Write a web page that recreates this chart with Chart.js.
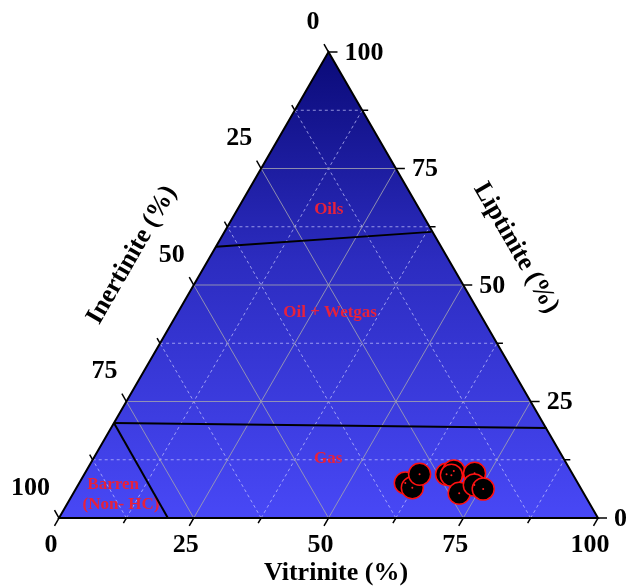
<!DOCTYPE html>
<html>
<head>
<meta charset="utf-8">
<title>Maceral ternary</title>
<script src="https://cdn.jsdelivr.net/npm/chart.js@4.4.1/dist/chart.umd.min.js"></script>
<style>
  body { margin: 0; background: #ffffff; }
  #wrap { width: 629px; height: 587px; }
</style>
</head>
<body>
<div id="wrap"><canvas id="myChart" width="629" height="587"></canvas></div>
<script>
// axis ticks
var tickValues = [0, 25, 50, 75, 100];
var minorTicks = [12.5, 37.5, 62.5, 87.5];
var axisTitles = ["Vitrinite (%)", "Liptinite (%)", "Inertinite (%)"];

// samples (percent)
var vitrinite  = [60.5, 62.3, 62.2, 67.2, 68.2, 68.2, 71.6, 72.3, 73.5, 75.6];
var liptinite  = [ 7.5,  6.5,  9.4,  9.4, 10.1,  9.2,  5.3,  9.6,  7.1,  6.2];
var inertinite = [32.0, 31.2, 28.4, 23.4, 21.7, 22.6, 23.1, 18.1, 19.4, 18.2];

// field boundaries (vitrinite, liptinite at each end)
var oilsLineV = [0, 38.4];
var oilsLineL = [58.2, 61.4];
var gasLineV = [0, 80.8];
var gasLineL = [20.4, 19.3];
var barrenLineV = [0, 20.2];
var barrenLineL = [20.4, 0];

// field names and where they sit (vitrinite, liptinite)
var fieldNames = ["Oils", "Oil + Wetgas", "Gas", "Barren", "(Non- HC)"];
var fieldV = [17.0, 28.3, 43.6, 6.5, 10.1];
var fieldL = [66.1, 44.0, 12.7, 7.1, 2.8];

var H = Math.sqrt(3) / 2;

// ternary -> cartesian (x along vitrinite, y up towards liptinite apex)
function toXY(v, l) {
    return { x: v + l / 2, y: l * H };
}

function makePoints(vs, ls) {
    var out = [];
    for (var i = 0; i < vs.length; i++) {
        out.push(toXY(vs[i], ls[i]));
    }
    return out;
}

// draws the triangle, grid, ticks and labels using the chart scales
var ternaryPlugin = {
    id: "ternary",
    beforeDatasetsDraw: function(chart) {
        var ctx = chart.ctx;
        var xs = chart.scales.x, ys = chart.scales.y;
        function px(v, l) {
            var p = toXY(v, l);
            return [xs.getPixelForValue(p.x), ys.getPixelForValue(p.y)];
        }
        var A = px(0, 0), B = px(100, 0), C = px(0, 100);

        ctx.save();
        var grad = ctx.createLinearGradient(0, C[1], 0, A[1]);
        grad.addColorStop(0, "#0a0a78");
        grad.addColorStop(0.45, "#2c2cc0");
        grad.addColorStop(1, "#4848f6");
        ctx.beginPath();
        ctx.moveTo(A[0], A[1]);
        ctx.lineTo(B[0], B[1]);
        ctx.lineTo(C[0], C[1]);
        ctx.closePath();
        ctx.fillStyle = grad;
        ctx.fill();

        // grid lines
        function gridSet(vals, dashed) {
            ctx.lineWidth = 1;
            if (dashed) {
                ctx.setLineDash([3, 3]);
                ctx.strokeStyle = "rgba(200,200,255,0.7)";
            } else {
                ctx.setLineDash([]);
                ctx.strokeStyle = "rgba(160,160,175,0.85)";
            }
            for (var i = 0; i < vals.length; i++) {
                var t = vals[i];
                var lines = [
                    [px(t, 0), px(t, 100 - t)],      // constant vitrinite
                    [px(0, t), px(100 - t, t)],      // constant liptinite
                    [px(100 - t, 0), px(0, 100 - t)] // constant inertinite
                ];
                for (var j = 0; j < lines.length; j++) {
                    ctx.beginPath();
                    ctx.moveTo(lines[j][0][0], lines[j][0][1]);
                    ctx.lineTo(lines[j][1][0], lines[j][1][1]);
                    ctx.stroke();
                }
            }
        }
        gridSet(minorTicks, true);
        gridSet(tickValues.slice(1, 4), false);
        ctx.setLineDash([]);

        // outline
        ctx.beginPath();
        ctx.moveTo(A[0], A[1]);
        ctx.lineTo(B[0], B[1]);
        ctx.lineTo(C[0], C[1]);
        ctx.closePath();
        ctx.strokeStyle = "#000";
        ctx.lineWidth = 2;
        ctx.stroke();

        // ticks
        ctx.lineWidth = 1.5;
        function tick(p, dx, dy, len) {
            ctx.beginPath();
            ctx.moveTo(p[0], p[1]);
            ctx.lineTo(p[0] + dx * len, p[1] + dy * len);
            ctx.stroke();
        }
        var all = tickValues.concat(minorTicks);
        for (var k = 0; k < all.length; k++) {
            var t = all[k];
            var len = tickValues.indexOf(t) >= 0 ? 9 : 6;
            tick(px(t, 0), -0.5, H, len);          // vitrinite, bottom
            tick(px(100 - t, t), 1, 0, len);       // liptinite, right
            tick(px(0, 100 - t), -0.5, -H, len);   // inertinite, left
        }

        // tick labels
        ctx.fillStyle = "#000";
        ctx.font = "bold 26px 'Liberation Serif', 'Times New Roman', serif";
        for (var m = 0; m < tickValues.length; m++) {
            var tv = tickValues[m];
            var s = String(tv);
            var pb = px(tv, 0);
            ctx.textAlign = "center";
            ctx.textBaseline = "middle";
            ctx.fillText(s, pb[0] - 8, pb[1] + 27);
            var pr = px(100 - tv, tv);
            ctx.textAlign = "left";
            ctx.fillText(s, pr[0] + 16, pr[1] + 1);
            var pl = px(0, 100 - tv);
            ctx.textAlign = "right";
            ctx.fillText(s, pl[0] - 9, pl[1] - 30);
        }

        // axis titles
        ctx.textAlign = "center";
        ctx.textBaseline = "middle";
        ctx.fillText(axisTitles[0], 336, 573);
        ctx.save();
        ctx.translate(516, 248);
        ctx.rotate(Math.PI / 3);
        ctx.fillText(axisTitles[1], 0, 0);
        ctx.restore();
        ctx.save();
        ctx.translate(132, 255);
        ctx.rotate(-Math.PI / 3);
        ctx.fillText(axisTitles[2], 0, 0);
        ctx.restore();

        // field names
        ctx.fillStyle = "#e8213b";
        ctx.font = "bold 17px 'Liberation Serif', 'Times New Roman', serif";
        for (var f = 0; f < fieldNames.length; f++) {
            var pf = px(fieldV[f], fieldL[f]);
            ctx.fillText(fieldNames[f], pf[0], pf[1]);
        }
        ctx.restore();
    }
};

var ctx = document.getElementById("myChart").getContext("2d");
var myChart = new Chart(ctx, {
    type: "scatter",
    data: {
        datasets: [
            {
                label: "oils",
                data: makePoints(oilsLineV, oilsLineL),
                showLine: true, borderColor: "#000", borderWidth: 2,
                pointRadius: 0, clip: false
            },
            {
                label: "gas",
                data: makePoints(gasLineV, gasLineL),
                showLine: true, borderColor: "#000", borderWidth: 2,
                pointRadius: 0, clip: false
            },
            {
                label: "barren",
                data: makePoints(barrenLineV, barrenLineL),
                showLine: true, borderColor: "#000", borderWidth: 2,
                pointRadius: 0, clip: false
            },
            {
                label: "dots",
                data: makePoints(vitrinite, liptinite),
                pointRadius: 1, backgroundColor: "#ff2020", borderWidth: 0,
                clip: false
            },
            {
                label: "samples",
                data: makePoints(vitrinite, liptinite),
                pointRadius: 11, backgroundColor: "#000", borderColor: "#ff1010",
                borderWidth: 1.5, clip: false
            }
        ]
    },
    options: {
        responsive: false,
        animation: false,
        layout: { padding: { left: 59, right: 31, top: 52, bottom: 69 } },
        plugins: { legend: { display: false }, tooltip: { enabled: false } },
        scales: {
            x: { type: "linear", min: 0, max: 100, display: false },
            y: { type: "linear", min: 0, max: 100 * H, display: false }
        }
    },
    plugins: [ternaryPlugin]
});
</script>
</body>
</html>
